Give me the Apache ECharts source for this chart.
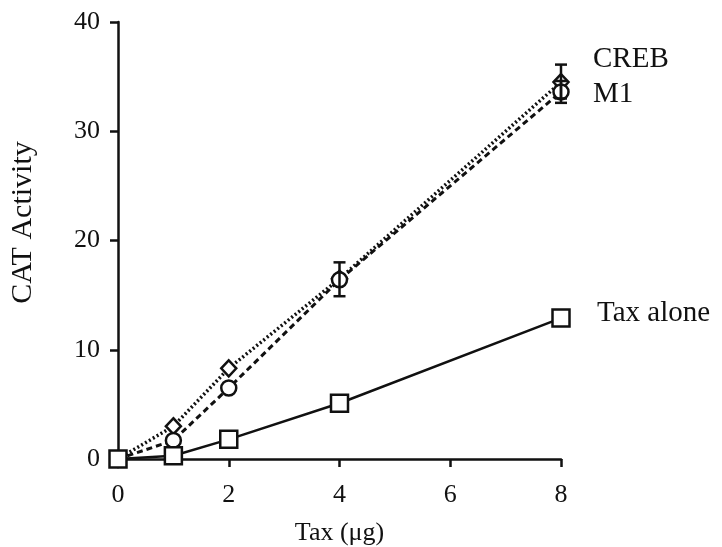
<!DOCTYPE html>
<html>
<head>
<meta charset="utf-8">
<script src="https://cdn.jsdelivr.net/npm/echarts@6/dist/echarts.min.js"></script>
<style>html,body{margin:0;padding:0;background:#fff}#c{width:722px;height:547px}</style>
</head>
<body>
<div id="c"></div>
<script>
// Data
var taxDose = [0, 1, 2, 4, 8];
var taxAlone = [0, 0.3, 1.8, 5.1, 12.9];
var creb = [0, 3.0, 8.3, 16.5, 34.5];
var m1 = [0, 1.7, 6.5, 16.4, 33.6];
// error bars: [x, low, high]
var crebErr = [[8, 33.0, 36.1]];
var m1Err = [[4, 14.9, 18.0], [8, 32.6, 34.6]];
var xTicks = [0, 2, 4, 6, 8];
var yTicks = [0, 10, 20, 30, 40];

function pairs(xs, ys) { return xs.map(function (x, i) { return [x, ys[i]]; }); }

var FONT = 'Liberation Serif';
var chart = echarts.init(document.getElementById('c'), null, { renderer: 'canvas' });

function errSeries(data) {
  return {
    type: 'custom',
    data: data,
    z: 5,
    silent: true,
    renderItem: function (params, api) {
      var x = api.value(0), lo = api.value(1), hi = api.value(2);
      var p1 = api.coord([x, lo]), p2 = api.coord([x, hi]);
      var w = 6;
      var st = { stroke: '#111', lineWidth: 2.5 };
      return {
        type: 'group',
        children: [
          { type: 'line', shape: { x1: p1[0], y1: p1[1], x2: p2[0], y2: p2[1] }, style: st },
          { type: 'line', shape: { x1: p1[0] - w, y1: p1[1], x2: p1[0] + w, y2: p1[1] }, style: st },
          { type: 'line', shape: { x1: p2[0] - w, y1: p2[1], x2: p2[0] + w, y2: p2[1] }, style: st }
        ]
      };
    }
  };
}

function lineSeries(name, ys, symbol, size, lineType, width, labelOffset, fontSize, z) {
  return {
    name: name,
    type: 'line',
    data: pairs(taxDose, ys),
    symbol: symbol,
    symbolSize: size,
    showAllSymbol: true,
    z: z,
    itemStyle: { color: '#fff', borderColor: '#111', borderWidth: 2.5 },
    lineStyle: { color: '#111', width: width, type: lineType },
    endLabel: {
      show: true,
      formatter: '{a}',
      color: '#111',
      fontFamily: FONT,
      fontSize: fontSize,
      distance: 0,
      offset: labelOffset
    },
    animation: false
  };
}

chart.setOption({
  animation: false,
  backgroundColor: '#fff',
  grid: { left: 118, right: 161, top: 22, bottom: 88, containLabel: false, outerBoundsMode: 'none' },
  xAxis: {
    type: 'value', min: 0, max: 8, interval: 2,
    name: 'Tax (\u03bcg)', nameLocation: 'middle', nameGap: 61,
    nameTextStyle: { fontFamily: FONT, fontSize: 26, color: '#111' },
    axisLine: { show: true, onZero: false, lineStyle: { color: '#111', width: 2.5 } },
    axisTick: { show: true, inside: false, length: 8, lineStyle: { color: '#111', width: 2.5 } },
    axisLabel: { fontFamily: FONT, fontSize: 26, color: '#111', margin: 23,
      formatter: function (v) { return xTicks.indexOf(v) >= 0 ? String(v) : ''; } },
    splitLine: { show: false }
  },
  yAxis: {
    type: 'value', min: 0, max: 40, interval: 10,
    name: 'CAT Activity', nameLocation: 'middle', nameGap: 80,
    nameTextStyle: { fontFamily: FONT, fontSize: 30, color: '#111', padding: [0, 0, 0, 36] },
    axisLine: { show: true, onZero: false, lineStyle: { color: '#111', width: 2.5 } },
    axisTick: { show: true, inside: false, length: 8, lineStyle: { color: '#111', width: 2.5 } },
    axisLabel: { fontFamily: FONT, fontSize: 26, color: '#111', margin: 18,
      formatter: function (v) { return yTicks.indexOf(v) >= 0 ? String(v) : ''; } },
    splitLine: { show: false }
  },
  series: [
    errSeries(m1Err),
    errSeries(crebErr),
    lineSeries('CREB', creb, 'diamond', [15, 16], [2, 2.5], 3.5, [32, -23], 29, 3),
    lineSeries('M1', m1, 'circle', 15, [6, 4], 3, [32, 2], 29, 3),
    lineSeries('Tax alone', taxAlone, 'rect', 17, 'solid', 2.5, [36, -5], 29, 4)
  ]
});
</script>
</body>
</html>
